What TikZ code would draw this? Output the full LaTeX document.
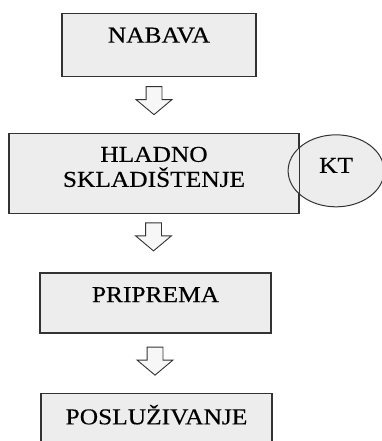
\documentclass[tikz,border=0pt]{standalone}
\usepackage{fontspec}
\setmainfont{Liberation Serif}[FakeStretch=1.12, FakeBold=0.35]
\usetikzlibrary{positioning, shapes.arrows, shapes.geometric}

\begin{document}
\begin{tikzpicture}[x=1pt,y=-1pt,
		box/.style = {draw=black!80, line width=1.2pt, fill=black!7, inner sep=0pt,
			align=center, font=\fontsize{22.7}{25}\selectfont},
		flow/.style = {single arrow, draw=black!80, line width=0.9pt, fill=black!3,
			shape border rotate=270, minimum height=28pt, inner sep=7.5pt,
			single arrow head extend=10pt, single arrow tip angle=100,
			single arrow head indent=0pt, anchor=tail},
		ktnode/.style = {ellipse, draw=black!80, line width=1pt, fill=black!7, inner sep=0pt,
			minimum width=96pt, minimum height=72pt, font=\fontsize{22.7}{25}\selectfont}]
		\useasboundingbox (0,0) rectangle (382,441);
		\node [box, anchor=north, minimum width=194pt, text height=29pt, text depth=34pt] (nabava) at (159,13) {NABAVA};
		\node [flow] (a1) at ([xshift=-5pt, yshift=-9pt]nabava.south) {};
		\node [box, below=18pt of a1.tip, minimum width=290pt, text height=53pt, text depth=27pt] (hladno) {HLADNO\\SKLADIŠTENJE};
		\node [ktnode, text height=15pt, text depth=11pt, anchor=west] (kt) at ([xshift=-12pt, yshift=3pt]hladno.east) {KT};
		\draw [draw=black!80, line width=1.2pt] (hladno.north east) -- (hladno.south east);
		\node [flow] (a2) at ([xshift=-0.5pt, yshift=-8pt]hladno.south) {};
		\node [box, below=21pt of a2.tip, xshift=2pt, minimum width=231pt, text height=29pt, text depth=31pt] (priprema) {PRIPREMA};
		\node [flow] (a3) at ([xshift=-0.5pt, yshift=-13pt]priprema.south) {};
		\node [box, below=17pt of a3.tip, xshift=1.5pt, minimum width=231pt, text height=31pt, text depth=40pt] (posluzivanje) {POSLUŽIVANJE};
	\end{tikzpicture}
\end{document}
